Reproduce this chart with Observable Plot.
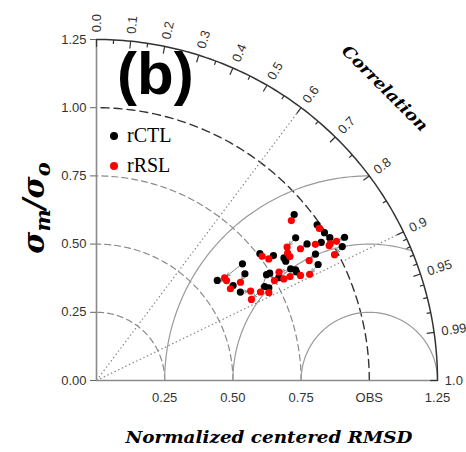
<!DOCTYPE html>
<html>
<head>
<meta charset="utf-8">
<script src="https://cdn.jsdelivr.net/npm/d3@7"></script>
<script src="https://cdn.jsdelivr.net/npm/@observablehq/plot@0.6"></script>
<style>
  body { margin: 0; background: #fff; }
  #chart svg { display: block; }
</style>
</head>
<body>
<div id="chart"></div>
<script>
// Normalized standard deviation (σm/σo) and correlation with observations, one entry per run
const ctlStd  = [0.946, 0.990, 0.996, 1.050, 1.026, 1.003, 0.898, 0.920, 0.967, 0.917, 0.927, 0.758, 0.794, 0.821,
                 0.820, 0.685, 0.575, 0.670, 0.610, 0.619, 0.706, 0.717, 0.747, 0.734, 0.821, 0.834, 0.835, 0.767];
const ctlCorr = [0.766, 0.817, 0.839, 0.866, 0.878, 0.853, 0.813, 0.839, 0.852, 0.886, 0.866, 0.790, 0.817, 0.837,
                 0.846, 0.781, 0.770, 0.812, 0.821, 0.852, 0.873, 0.881, 0.850, 0.849, 0.867, 0.879, 0.874, 0.871];
const rslStd  = [0.924, 0.989, 0.993, 1.017, 0.987, 0.986, 0.853, 0.890, 0.945, 0.873, 0.895, 0.759, 0.773, 0.842,
                 0.842, 0.602, 0.601, 0.639, 0.595, 0.653, 0.641, 0.709, 0.748, 0.683, 0.778, 0.805, 0.841, 0.781];
const rslCorr = [0.773, 0.826, 0.863, 0.865, 0.884, 0.865, 0.819, 0.840, 0.849, 0.895, 0.871, 0.800, 0.817, 0.832,
                 0.842, 0.780, 0.793, 0.826, 0.825, 0.865, 0.886, 0.891, 0.872, 0.880, 0.860, 0.881, 0.889, 0.879];

// Axis ticks
const stdTicks = [0, 0.25, 0.5, 0.75, 1, 1.25];
const rmsTicks = [0.25, 0.5, 0.75, 1, 1.25];
const corrLabels = [0, 0.1, 0.2, 0.3, 0.4, 0.5, 0.6, 0.7, 0.8, 0.9, 0.95, 0.99, 1];
const corrMinor = [0.05, 0.15, 0.25, 0.35, 0.45, 0.55, 0.65, 0.75, 0.85, 0.91, 0.92, 0.93, 0.94, 0.96, 0.97, 0.98];
const stdCircles = [0.25, 0.5, 0.75];
const rmsCircles = [0.25, 0.5, 0.75];
const corrRays = [0.6, 0.9];

const R = 1.25; // outer radius of the diagram

// polar (std, corr) -> cartesian
const toXY = (s, c) => ({x: s * c, y: s * Math.sqrt(Math.max(0, 1 - c * c))});
const ctl = ctlStd.map((s, i) => toXY(s, ctlCorr[i]));
const rsl = rslStd.map((s, i) => toXY(s, rslCorr[i]));
const pairs = ctl.map((p, i) => ({x1: p.x, y1: p.y, x2: rsl[i].x, y2: rsl[i].y}));

// sampled circular arc (angles in degrees)
function arc(cx, cy, r, a0, a1, n = 120) {
  return d3.range(n + 1).map(i => {
    const a = (a0 + (a1 - a0) * i / n) * Math.PI / 180;
    return [cx + r * Math.cos(a), cy + r * Math.sin(a)];
  });
}
// centered-RMS circles around the reference point, cut at the outer arc
function rmsArc(r) {
  const c = Math.min(1, (R * R - 1 - r * r) / (2 * r));
  const end = Math.acos(c) * 180 / Math.PI;
  return arc(1, 0, r, 180, end);
}

const corrAngle = c => Math.acos(c) * 180 / Math.PI;
const corrFmt = c => (c === 0 || c === 1) ? c.toFixed(1) : String(c);
const labOff = 0.027;

const marks = [];
// std-dev circles
for (const r of stdCircles) {
  marks.push(Plot.line(arc(0, 0, r, 0, 90), {stroke: "#8a8a8a", strokeWidth: 1.2, strokeDasharray: "6,4"}));
}
marks.push(Plot.line(arc(0, 0, 1, 0, 90), {stroke: "#333", strokeWidth: 1.4, strokeDasharray: "8,5"}));
// RMSD circles
for (const r of rmsCircles) {
  marks.push(Plot.line(rmsArc(r), {stroke: "#9a9a9a", strokeWidth: 1.2}));
}
// correlation rays
marks.push(Plot.link(corrRays, {
  x1: 0, y1: 0, x2: c => R * c, y2: c => R * Math.sqrt(1 - c * c),
  stroke: "#888", strokeWidth: 1.2, strokeDasharray: "1.5,2.5"
}));
// axis lines
marks.push(Plot.ruleX([0], {y1: 0, y2: R, stroke: "#8a8a8a", strokeWidth: 1.6}));
marks.push(Plot.ruleY([0], {x1: 0, x2: R, stroke: "#8a8a8a", strokeWidth: 1.6}));
// outer correlation arc with ticks
marks.push(Plot.line(arc(0, 0, R, 0, 90), {stroke: "#333", strokeWidth: 1.5}));
const tickLink = (vals, len) => Plot.link(vals, {
  x1: c => R * c, y1: c => R * Math.sqrt(1 - c * c),
  x2: c => (R - len) * c, y2: c => (R - len) * Math.sqrt(1 - c * c),
  stroke: "#333", strokeWidth: 1.2
});
marks.push(tickLink(corrLabels, 0.027));
marks.push(tickLink(corrMinor, 0.015));
marks.push(Plot.text(corrLabels, {
  x: c => (R + labOff) * c, y: c => (R + labOff) * Math.sqrt(1 - c * c),
  text: corrFmt, rotate: c => -corrAngle(c), textAnchor: "start",
  fill: "#333", fontSize: 13
}));
// runs: arrows from rCTL to rRSL
marks.push(Plot.arrow(pairs, {
  x1: "x1", y1: "y1", x2: "x2", y2: "y2",
  stroke: "#8a8a8a", strokeWidth: 1, headLength: 5, insetStart: 3, insetEnd: 3
}));
marks.push(Plot.dot(ctl, {x: "x", y: "y", r: 3.6, fill: "#000"}));
marks.push(Plot.dot(rsl, {x: "x", y: "y", r: 3.6, fill: "#ff0000"}));
// axes
marks.push(Plot.axisY({ticks: stdTicks, tickFormat: d3.format(".2f"), tickSize: 6, tickPadding: 4,
  label: null, stroke: "#666", fill: "#333", fontSize: 13}));
marks.push(Plot.axisX({ticks: rmsTicks, tickFormat: d => d === 1 ? "OBS" : d3.format(".2f")(d),
  tickSize: 0, tickPadding: 12, label: null, fill: "#333", fontSize: 13}));

const svg = Plot.plot({
  width: 466, height: 452,
  marginLeft: 96, marginRight: 29, marginTop: 39, marginBottom: 72,
  x: {domain: [0, R]},
  y: {domain: [0, R]},
  style: {fontFamily: "'Liberation Sans', Arial, sans-serif", background: "#fff", color: "#333"},
  marks
});

const g = d3.select(svg);
// panel tag
g.append("text").attr("x", 117).attr("y", 94).attr("text-anchor", "start")
  .attr("font-family", "'Liberation Sans', Arial, sans-serif").attr("font-weight", "bold")
  .attr("font-size", 60).attr("fill", "#000").text("(b)");
// legend
const legend = [{name: "rCTL", color: "#000", y: 136}, {name: "rRSL", color: "#ff0000", y: 166}];
for (const l of legend) {
  g.append("circle").attr("cx", 114).attr("cy", l.y).attr("r", 4).attr("fill", l.color);
  g.append("text").attr("x", 127).attr("y", l.y + 5.5).attr("text-anchor", "start")
    .attr("font-family", "'Liberation Serif', 'Times New Roman', serif").attr("font-size", 20)
    .attr("fill", "#000").text(l.name);
}
// axis titles
g.append("text").attr("x", 269).attr("y", 443).attr("text-anchor", "middle")
  .attr("font-family", "'DejaVu Serif', serif").attr("font-weight", "bold").attr("font-style", "italic")
  .attr("font-size", 17).attr("textLength", 287).attr("lengthAdjust", "spacingAndGlyphs")
  .attr("fill", "#000").text("Normalized centered RMSD");
g.append("text").attr("transform", "translate(381,92) rotate(45)").attr("text-anchor", "middle")
  .attr("font-family", "'DejaVu Serif', serif").attr("font-weight", "bold").attr("font-style", "italic")
  .attr("font-size", 16).attr("textLength", 114).attr("lengthAdjust", "spacingAndGlyphs")
  .attr("fill", "#000").text("Correlation");
const yl = g.append("text").attr("transform", "translate(44,208) rotate(-90)").attr("text-anchor", "middle")
  .attr("font-family", "'DejaVu Serif', serif").attr("font-weight", "bold").attr("font-style", "italic")
  .attr("font-size", 30).attr("fill", "#000");
yl.append("tspan").text("σ");
yl.append("tspan").attr("font-size", 21).attr("dy", 6).text("m");
yl.append("tspan").attr("dy", -6).text("/");
yl.append("tspan").text("σ");
yl.append("tspan").attr("font-size", 21).attr("dy", 6).text("o");

document.getElementById("chart").appendChild(svg);
</script>
</body>
</html>
